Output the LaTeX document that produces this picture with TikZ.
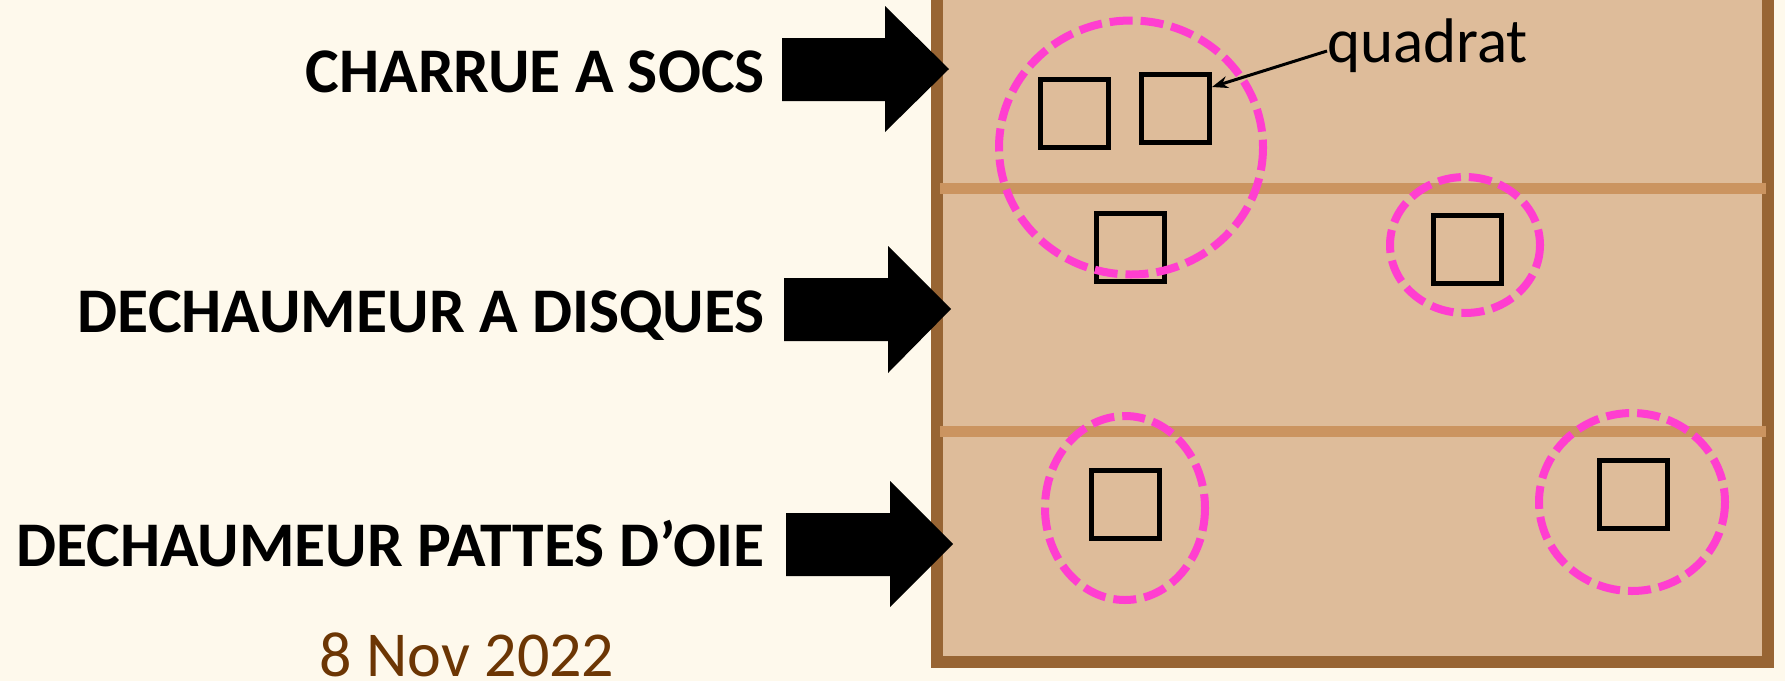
\documentclass[tikz,border=0pt]{standalone}
\usepackage{fontspec}
\setmainfont{Carlito}
\usetikzlibrary{arrows.meta}
\definecolor{bgcream}{RGB}{254,249,236}
\definecolor{fieldtan}{RGB}{222,188,154}
\definecolor{fieldborder}{RGB}{152,101,52}
\definecolor{furrow}{RGB}{203,148,96}
\definecolor{zonepink}{RGB}{255,62,208}
\definecolor{datebrown}{RGB}{108,54,4}
\tikzset{
  label/.style={anchor=base east, inner sep=0pt, font=\fontsize{63.6}{76}\selectfont\bfseries},
  bigarrow/.style={fill=black, draw=none},
  quadbox/.style={draw=black, line width=5pt, minimum size=68pt, inner sep=0pt},
  zone/.style={draw=zonepink, line width=8pt, dash pattern=on 23pt off 8pt},
  furrowline/.style={draw=furrow, line width=11pt},
}
\begin{document}
\begin{tikzpicture}[x=1pt,y=-1pt]
\useasboundingbox (0,0) rectangle (1785,681);
\fill[bgcream] (0,0) rectangle (1785,681);
\begin{scope}
\clip (0,0) rectangle (1785,681);
% field
\draw[fill=fieldtan, draw=fieldborder, line width=12pt] (937,-20) rectangle (1768,662);
\draw[furrowline] (940,188) -- (1766,188);
\draw[furrowline] (940,431) -- (1766,431);
% arrows
\fill[bigarrow] (782,38) -- (885,38) -- (885,6) -- (949,69) -- (885,132) -- (885,101) -- (782,101) -- cycle;
\fill[bigarrow] (784,278) -- (888,278) -- (888,246) -- (951,309) -- (888,373) -- (888,341) -- (784,341) -- cycle;
\fill[bigarrow] (786,513) -- (890,513) -- (890,481) -- (953,544) -- (890,607) -- (890,576) -- (786,576) -- cycle;
% quadrats
\node[quadbox] (q1) at (1074.5,113.5) {};
\node[quadbox] (q2) at (1175.5,108.5) {};
\node[quadbox] (q3) at (1130,247.5) {};
\node[quadbox] (q4) at (1467,249) {};
\node[quadbox] (q5) at (1125.5,504) {};
\node[quadbox] (q6) at (1633.5,494) {};
% zones
\draw[zone] (1131,147.5) ellipse [x radius=132, y radius=127];
\draw[zone] (1465,245) ellipse [x radius=75, y radius=68];
\draw[zone] (1125,508) ellipse [x radius=80, y radius=92];
\draw[zone] (1632,502) ellipse [x radius=93, y radius=89];
\end{scope}
% labels
\node[label] (l1) at (765,92) {CHARRUE A SOCS};
\node[label] (l2) at (765,332) {DECHAUMEUR A DISQUES};
\node[label] (l3) at (765,566) {DECHAUMEUR PATTES D’OIE};
\node[anchor=base, inner sep=0pt, text=datebrown, font=\fontsize{64}{76}\selectfont] (date) at (467,676) {8 Nov 2022};
\node[anchor=base west, inner sep=0pt, font=\fontsize{63}{75}\selectfont] (quad) at (1327,62) {quadrat};
\draw[line width=3pt, -{Stealth[length=16pt,width=12pt]}] (quad.west |- 0,51) -- (q2.east |- 0,87);
\end{tikzpicture}
\end{document}
